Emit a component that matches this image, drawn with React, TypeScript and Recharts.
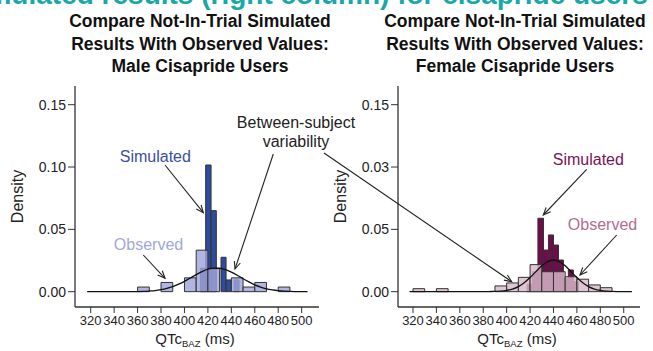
import React from 'react';
import { ComposedChart, Line, XAxis, YAxis, ReferenceArea } from 'recharts';

const W = 653;
const H = 351;
const FONT = '"Liberation Sans", Arial, Helvetica, sans-serif';
const NARROW = '"Liberation Sans Narrow", "Arial Narrow", "Liberation Sans", sans-serif';

// axes
const xTicks = [320, 340, 360, 380, 400, 420, 440, 460, 480, 500];
const yTicks = [0, 0.05, 0.1, 0.15];
const maleYTickLabels = ['0.00', '0.05', '0.10', '0.15'];
const femaleYTickLabels = ['0.00', '0.05', '0.03', '0.15'];

// observed histograms, 10 ms bins (bin start, density)
const obsBinWidth = 10;
const maleObsStart = [360, 380, 400, 410, 420, 440, 450, 460, 480];
const maleObsDensity = [0.0037, 0.0074, 0.0111, 0.0333, 0.0185, 0.0111, 0.0037, 0.0074, 0.0037];
const femaleObsStart = [320, 340, 390, 400, 410, 420, 430, 440, 450, 460, 470, 480];
const femaleObsDensity = [0.0024, 0.0024, 0.0046, 0.007, 0.0115, 0.0217, 0.016, 0.016, 0.012, 0.01, 0.0054, 0.0032];

// simulated (not-in-trial) histograms, narrow bins
const maleSimStart = [413.6, 418.1, 422.7, 431.2, 435.5, 442.3];
const maleSimEnd = [418.1, 422.7, 427.2, 435.5, 440, 446.6];
const maleSimDensity = [0.0188, 0.1016, 0.065, 0.0276, 0.0094, 0.0094];
const femaleSimStart = [417.5, 422, 426.7, 431.5, 435.7, 440, 444.3, 448.5, 452.7, 457];
const femaleSimEnd = [422, 426.7, 431.5, 435.7, 440, 444.3, 448.5, 452.7, 457, 461.3];
const femaleSimDensity = [0.006, 0.016, 0.0589, 0.0334, 0.0455, 0.0374, 0.0254, 0.0107, 0.0174, 0.008];

// between-subject variability curves
const maleCurveX = [317, 360, 365, 370, 375, 380, 385, 390, 395, 400, 405, 410, 415, 420, 425, 430, 435, 440, 445, 450, 455, 460, 465, 470, 475, 480, 485, 490, 495, 505];
const maleCurveY = [0, 0.0001, 0.0002, 0.0005, 0.0009, 0.0016, 0.0026, 0.004, 0.006, 0.0083, 0.011, 0.0137, 0.0161, 0.018, 0.0189, 0.0188, 0.0177, 0.0157, 0.0132, 0.0104, 0.0078, 0.0055, 0.0037, 0.0023, 0.0014, 0.0008, 0.0004, 0.0002, 0.0001, 0];
const femaleCurveX = [317, 380, 385, 390, 395, 400, 405, 410, 415, 420, 425, 430, 435, 440, 445, 450, 455, 460, 465, 470, 475, 480, 485, 490, 495, 507];
const femaleCurveY = [0, 0, 0.0001, 0.0002, 0.0004, 0.001, 0.0021, 0.0041, 0.0071, 0.0113, 0.0161, 0.0207, 0.0241, 0.0254, 0.0241, 0.0207, 0.0161, 0.0113, 0.0071, 0.0041, 0.0021, 0.001, 0.0004, 0.0002, 0.0001, 0];

type Bin = { x0: number; x1: number; d: number };

const toObs = (start: number[], dens: number[]): Bin[] =>
  start.map((s, i) => ({ x0: s, x1: s + obsBinWidth, d: dens[i] }));
const toSim = (start: number[], end: number[], dens: number[]): Bin[] =>
  start.map((s, i) => ({ x0: s, x1: end[i], d: dens[i] }));
const toCurve = (xs: number[], ys: number[]) => xs.map((x, i) => ({ x, y: ys[i] }));

type PanelProps = {
  marginLeft: number;
  marginRight: number;
  xDomain: [number, number];
  obs: Bin[];
  sim: Bin[];
  curve: { x: number; y: number }[];
  yLabels: string[];
  simFill: string;
  obsFill: string;
};

const yDomain: [number, number] = [-0.0123, 0.165];

function Panel(p: PanelProps) {
  const fmt = (v: number) => {
    const i = yTicks.findIndex((t) => Math.abs(t - v) < 1e-9);
    return i >= 0 ? p.yLabels[i] : String(v);
  };
  return (
    <div style={{ position: 'absolute', left: 0, top: 0, fontFamily: FONT }}>
      <ComposedChart
        width={W}
        height={H}
        data={p.curve}
        margin={{ top: 86, right: p.marginRight, bottom: 0, left: p.marginLeft }}
      >
        <XAxis
          dataKey="x"
          type="number"
          domain={p.xDomain}
          allowDataOverflow
          ticks={xTicks}
          interval={0}
          height={44}
          tickSize={6}
          tickMargin={3}
          axisLine={{ stroke: '#333', strokeWidth: 1.3 }}
          tickLine={{ stroke: '#333' }}
          tick={{ fontSize: 13, fontFamily: NARROW, fill: '#222' }}
          label={(lp: any) => {
            const vb = lp.viewBox;
            const cx = vb.x + vb.width / 2 - 2;
            return (
              <text x={cx} y={344} textAnchor="middle" fontSize={15} fill="#222" fontFamily={FONT}>
                QTc<tspan fontSize={9.5} dy={3}>BAZ</tspan>
                <tspan dy={-3}> (ms)</tspan>
              </text>
            );
          }}
        />
        <YAxis
          type="number"
          domain={yDomain}
          allowDataOverflow
          ticks={yTicks}
          interval={0}
          width={75}
          tickSize={7}
          tickMargin={2}
          tickFormatter={fmt}
          axisLine={{ stroke: '#333', strokeWidth: 1.3 }}
          tickLine={{ stroke: '#333' }}
          tick={{ fontSize: 14, fontFamily: FONT, fill: '#222' }}
          label={(lp: any) => {
            const vb = lp.viewBox;
            const cx = vb.x + 17.5;
            const cy = vb.y + vb.height / 2;
            return (
              <text
                x={cx}
                y={cy}
                transform={`rotate(-90 ${cx} ${cy})`}
                textAnchor="middle"
                dominantBaseline="central"
                fontSize={16}
                fill="#222"
                fontFamily={FONT}
              >
                Density
              </text>
            );
          }}
        />
        {p.sim.map((b, i) => (
          <ReferenceArea
            key={'s' + i}
            x1={b.x0}
            x2={b.x1}
            y1={0}
            y2={b.d}
            fill={p.simFill}
            fillOpacity={1}
            stroke="#333"
            strokeWidth={1}
            strokeOpacity={1}
            ifOverflow="visible"
          />
        ))}
        {p.obs.map((b, i) => (
          <ReferenceArea
            key={'o' + i}
            x1={b.x0}
            x2={b.x1}
            y1={0}
            y2={b.d}
            fill={p.obsFill}
            fillOpacity={0.82}
            stroke="#333"
            strokeWidth={1}
            strokeOpacity={1}
            ifOverflow="visible"
          />
        ))}
        <Line
          dataKey="y"
          type="monotone"
          stroke="#111"
          strokeWidth={1.3}
          dot={false}
          activeDot={false}
          isAnimationActive={false}
        />
      </ComposedChart>
    </div>
  );
}

function Arrow({ from, to }: { from: [number, number]; to: [number, number] }) {
  const [x1, y1] = from;
  const [x2, y2] = to;
  const a = Math.atan2(y2 - y1, x2 - x1);
  const L = 8;
  const s = 0.4;
  const p1 = `${x2 - L * Math.cos(a - s)},${y2 - L * Math.sin(a - s)}`;
  const p2 = `${x2 - L * Math.cos(a + s)},${y2 - L * Math.sin(a + s)}`;
  return (
    <g stroke="#222" strokeWidth={1.1} fill="none">
      <line x1={x1} y1={y1} x2={x2} y2={y2} />
      <polyline points={`${p1} ${x2},${y2} ${p2}`} />
    </g>
  );
}

export default function App() {
  return (
    <div style={{ position: 'absolute', left: 0, top: 0, width: W, height: H, background: '#fff', overflow: 'hidden' }}>
      <Panel
        marginLeft={0}
        marginRight={334}
        xDomain={[306.6, 514.8]}
        obs={toObs(maleObsStart, maleObsDensity)}
        sim={toSim(maleSimStart, maleSimEnd, maleSimDensity)}
        curve={toCurve(maleCurveX, maleCurveY)}
        yLabels={maleYTickLabels}
        simFill="#2F4B9C"
        obsFill="#A0A5DA"
      />
      <Panel
        marginLeft={323}
        marginRight={13}
        xDomain={[307.2, 513.9]}
        obs={toObs(femaleObsStart, femaleObsDensity)}
        sim={toSim(femaleSimStart, femaleSimEnd, femaleSimDensity)}
        curve={toCurve(femaleCurveX, femaleCurveY)}
        yLabels={femaleYTickLabels}
        simFill="#6E0C4C"
        obsFill="#D9B9CA"
      />
      <svg
        width={W}
        height={H}
        style={{ position: 'absolute', left: 0, top: 0, pointerEvents: 'none' }}
        fontFamily={FONT}
      >
        <text x={-40} y={4} fontSize={28} fontWeight="bold" fill="#18A8A8">
          Simulated results (right column) for cisapride users
        </text>
        <g fontSize={17.5} fontWeight="bold" fill="#111" textAnchor="middle">
          <text x={200} y={27.3}>Compare Not-In-Trial Simulated</text>
          <text x={200} y={49.5}>Results With Observed Values:</text>
          <text x={200} y={71.5}>Male Cisapride Users</text>
          <text x={515} y={27.3}>Compare Not-In-Trial Simulated</text>
          <text x={515} y={49.5}>Results With Observed Values:</text>
          <text x={515} y={71.5}>Female Cisapride Users</text>
        </g>
        <g fontSize={16} textAnchor="middle">
          <text x={155.3} y={161.5} fill="#3A4FA3">Simulated</text>
          <text x={148.5} y={250} fill="#A2A7DC">Observed</text>
          <text x={296} y={127.5} fill="#222">Between-subject</text>
          <text x={296} y={146.5} fill="#222">variability</text>
          <text x={588.3} y={165} fill="#7A1257">Simulated</text>
          <text x={602.5} y={230} fill="#B46C93">Observed</text>
        </g>
        <Arrow from={[165, 165]} to={[203.3, 212.7]} />
        <Arrow from={[143.3, 255]} to={[165, 278.3]} />
        <Arrow from={[273.3, 154]} to={[235, 269]} />
        <Arrow from={[324, 153]} to={[511.7, 281.7]} />
        <Arrow from={[586.7, 169.3]} to={[543.3, 215]} />
        <Arrow from={[616.7, 235]} to={[580, 275]} />
      </svg>
    </div>
  );
}
